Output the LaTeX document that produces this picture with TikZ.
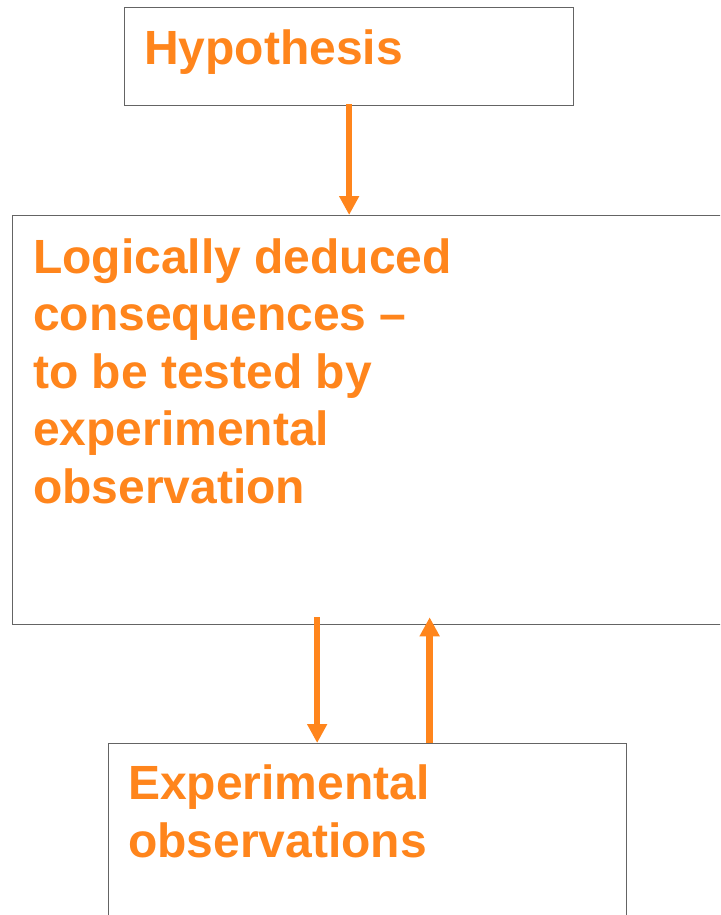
\documentclass[tikz,border=0pt]{standalone}
\usepackage{fontspec}
\setmainfont{Liberation Sans}
\usetikzlibrary{arrows.meta}
\definecolor{flowfg}{RGB}{255,133,28}
\definecolor{frame}{RGB}{100,100,100}
\tikzset{
  box/.style={draw=frame, line width=1.3pt, fill=none, inner sep=0pt, anchor=north west},
  words/.style={text=flowfg, font=\bfseries\fontsize{48}{57.5}\selectfont, align=left, inner sep=0pt, anchor=base west},
  flow/.style={draw=flowfg, line width=6.5pt, -{Triangle[width=19pt,length=19pt]}, shorten <=0pt}
}
\begin{document}
\begin{tikzpicture}[x=1pt, y=-1pt]
  \useasboundingbox (0,0) rectangle (720,915);
  \clip (0,0) rectangle (720,915);
  \fill[white] (0,0) rectangle (720,915);
  % frames
  \node[box, minimum width=449pt, minimum height=98pt] (hyp) at (124,7) {};
  \node[box, minimum width=720pt, minimum height=409pt] (logic) at (12,215) {};
  \node[box, minimum width=518pt, minimum height=190pt] (obs) at (108,743) {};
  % labels (base anchor of a multi-line node sits on its last line)
  \node[words] (hyptext) at (144,65) {Hypothesis};
  \node[words] (logictext) at (33,503) {Logically deduced\\consequences --\\to be tested by\\experimental\\observation};
  \node[words] (obstext) at (128,857) {Experimental\\observations};
  % connectors
  \draw[flow] ([yshift=2pt]hyp.south) -- (hyp.south |- logic.north);
  \draw[flow] ([xshift=-50.5pt,yshift=8pt]obs.north |- logic.south) -- ([xshift=-50.5pt]obs.north);
  \draw[flow] ([xshift=62pt]obs.north) -- ([xshift=62pt,yshift=8pt]obs.north |- logic.south);
\end{tikzpicture}
\end{document}
